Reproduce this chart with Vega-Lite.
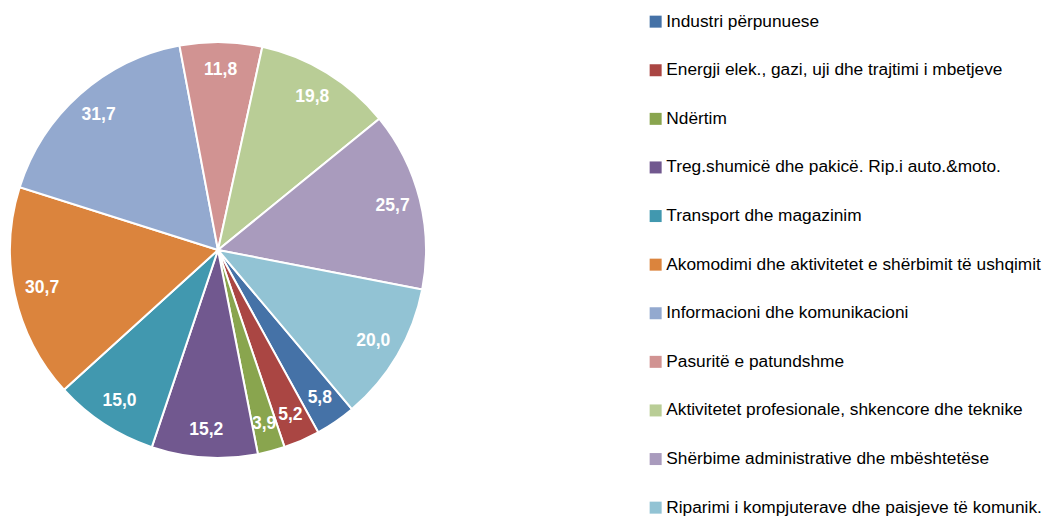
{
  "$schema": "https://vega.github.io/schema/vega-lite/v6.json",
  "width": 436,
  "height": 500,
  "padding": 0,
  "autosize": {"type": "pad"},
  "background": "white",
  "config": {
    "view": {"stroke": null},
    "locale": {"number": {"decimal": ",", "thousands": ".", "grouping": [3], "currency": ["", " €"]}}
  },
  "data": {
    "values": [
      {"cat": "Industri përpunuese", "v": 5.8, "o": 1},
      {"cat": "Energji elek., gazi, uji dhe trajtimi i mbetjeve", "v": 5.2, "o": 2},
      {"cat": "Ndërtim", "v": 3.9, "o": 3},
      {"cat": "Treg.shumicë dhe pakicë. Rip.i auto.&moto.", "v": 15.2, "o": 4},
      {"cat": "Transport dhe magazinim", "v": 15.0, "o": 5},
      {"cat": "Akomodimi dhe aktivitetet e shërbimit të ushqimit", "v": 30.7, "o": 6},
      {"cat": "Informacioni dhe komunikacioni", "v": 31.7, "o": 7},
      {"cat": "Pasuritë e patundshme", "v": 11.8, "o": 8},
      {"cat": "Aktivitetet profesionale, shkencore dhe teknike", "v": 19.8, "o": 9},
      {"cat": "Shërbime administrative dhe mbështetëse", "v": 25.7, "o": 10},
      {"cat": "Riparimi i kompjuterave dhe paisjeve të komunik.", "v": 20.0, "o": 11}
    ]
  },
  "encoding": {
    "theta": {"field": "v", "type": "quantitative", "stack": true, "scale": {"range": [2.442, 8.725]}},
    "order": {"field": "o", "type": "quantitative"}
  },
  "layer": [
    {
      "mark": {"type": "arc", "outerRadius": 208, "stroke": "white", "strokeWidth": 2},
      "encoding": {
        "color": {
          "field": "cat",
          "type": "nominal",
          "scale": {
            "domain": [
              "Industri përpunuese",
              "Energji elek., gazi, uji dhe trajtimi i mbetjeve",
              "Ndërtim",
              "Treg.shumicë dhe pakicë. Rip.i auto.&moto.",
              "Transport dhe magazinim",
              "Akomodimi dhe aktivitetet e shërbimit të ushqimit",
              "Informacioni dhe komunikacioni",
              "Pasuritë e patundshme",
              "Aktivitetet profesionale, shkencore dhe teknike",
              "Shërbime administrative dhe mbështetëse",
              "Riparimi i kompjuterave dhe paisjeve të komunik."
            ],
            "range": ["#4572A7", "#AA4643", "#89A54E", "#71588F", "#4198AF", "#DB843D", "#93A9CF", "#D19392", "#B9CD96", "#A99BBD", "#92C3D4"]
          },
          "legend": {
            "title": null,
            "orient": "none",
            "legendX": 647,
            "legendY": 13,
            "padding": 0,
            "symbolType": "square",
            "symbolSize": 144,
            "symbolStrokeWidth": 0,
            "symbolOpacity": 1,
            "labelFont": "Liberation Sans",
            "labelFontSize": 17.3,
            "labelColor": "#000000",
            "labelLimit": 600,
            "labelOffset": 2,
            "rowPadding": 30.6
          }
        }
      }
    },
    {
      "mark": {"type": "text", "radius": 180, "font": "Liberation Sans", "fontWeight": "bold", "fontSize": 17.5, "baseline": "middle", "align": "center"},
      "encoding": {
        "text": {"field": "v", "type": "quantitative", "format": ".1f"},
        "detail": {"field": "cat", "type": "nominal"},
        "color": {"value": "white"}
      }
    }
  ]
}
